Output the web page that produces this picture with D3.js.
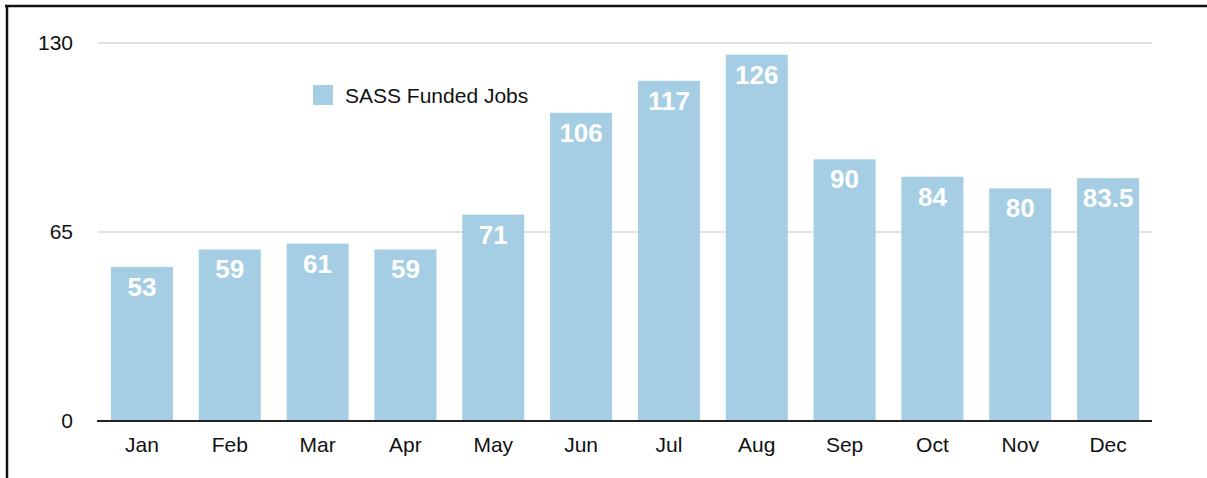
<!DOCTYPE html>
<html>
<head>
<meta charset="utf-8">
<script src="https://cdn.jsdelivr.net/npm/d3@7"></script>
<style>
  body { margin: 0; background: #fff; }
  svg { display: block; font-family: "Liberation Sans", Arial, Helvetica, sans-serif; }
</style>
</head>
<body>
<script>
// chart data
var months = ["Jan", "Feb", "Mar", "Apr", "May", "Jun", "Jul", "Aug", "Sep", "Oct", "Nov", "Dec"];
var jobs = [53, 59, 61, 59, 71, 106, 117, 126, 90, 84, 80, 83.5];
var yTicks = [0, 65, 130];
var seriesName = "SASS Funded Jobs";

var W = 1207, H = 478,
    plotLeft = 98, plotRight = 1152, plotTop = 43, plotBottom = 421,
    barColor = "#a5cee4";

var svg = d3.select("body").append("svg")
    .attr("width", W)
    .attr("height", H);

// frame lines (top + left)
svg.append("line").attr("x1", 5).attr("x2", W).attr("y1", 6).attr("y2", 6)
    .attr("stroke", "#111").attr("stroke-width", 2.5);
svg.append("line").attr("x1", 7).attr("x2", 7).attr("y1", 5).attr("y2", H)
    .attr("stroke", "#111").attr("stroke-width", 2.5);

var x = d3.scaleBand().domain(months).range([plotLeft, plotRight])
    .paddingInner(0.294).paddingOuter(0.147);
var y = d3.scaleLinear().domain([0, 130]).range([plotBottom, plotTop]);

// gridlines
svg.append("g").selectAll("line")
    .data(yTicks.filter(function(d) { return d > 0; }))
    .enter().append("line")
    .attr("x1", plotLeft).attr("x2", plotRight)
    .attr("y1", function(d) { return y(d); })
    .attr("y2", function(d) { return y(d); })
    .attr("stroke", "#d9d9d9").attr("stroke-width", 1.5);

// y labels
var yAxis = svg.append("g")
    .attr("transform", "translate(73,0)")
    .call(d3.axisLeft(y).tickValues(yTicks).tickSize(0).tickPadding(0));
yAxis.select(".domain").remove();
yAxis.selectAll("text")
    .attr("font-family", null)
    .attr("font-size", 21)
    .attr("fill", "#111");

// bars
svg.append("g").selectAll("rect")
    .data(jobs)
    .enter().append("rect")
    .attr("x", function(d, i) { return x(months[i]); })
    .attr("y", function(d) { return y(d); })
    .attr("width", x.bandwidth())
    .attr("height", function(d) { return y(0) - y(d); })
    .attr("fill", barColor);

// value labels
svg.append("g").selectAll("text")
    .data(jobs)
    .enter().append("text")
    .attr("x", function(d, i) { return x(months[i]) + x.bandwidth() / 2; })
    .attr("y", function(d) { return y(d) + 29; })
    .attr("text-anchor", "middle")
    .attr("font-size", 26)
    .attr("font-weight", "bold")
    .attr("fill", "#fff")
    .text(function(d) { return d; });

// baseline + month labels
var xAxis = svg.append("g")
    .attr("transform", "translate(0," + plotBottom + ")")
    .call(d3.axisBottom(x).tickSize(0).tickPadding(0));
xAxis.select(".domain")
    .attr("d", "M" + (plotLeft - 1) + ",0H" + plotRight)
    .attr("stroke", "#222").attr("stroke-width", 2);
xAxis.selectAll("text")
    .attr("font-family", null)
    .attr("font-size", 21)
    .attr("fill", "#111")
    .attr("dy", null)
    .attr("y", 31);

// legend
var legend = svg.append("g").attr("transform", "translate(313,85)");
legend.append("rect").attr("width", 20).attr("height", 20).attr("fill", barColor);
legend.append("text").attr("x", 32).attr("y", 17.5)
    .attr("font-size", 21).attr("fill", "#111")
    .text(seriesName);
</script>
</body>
</html>
